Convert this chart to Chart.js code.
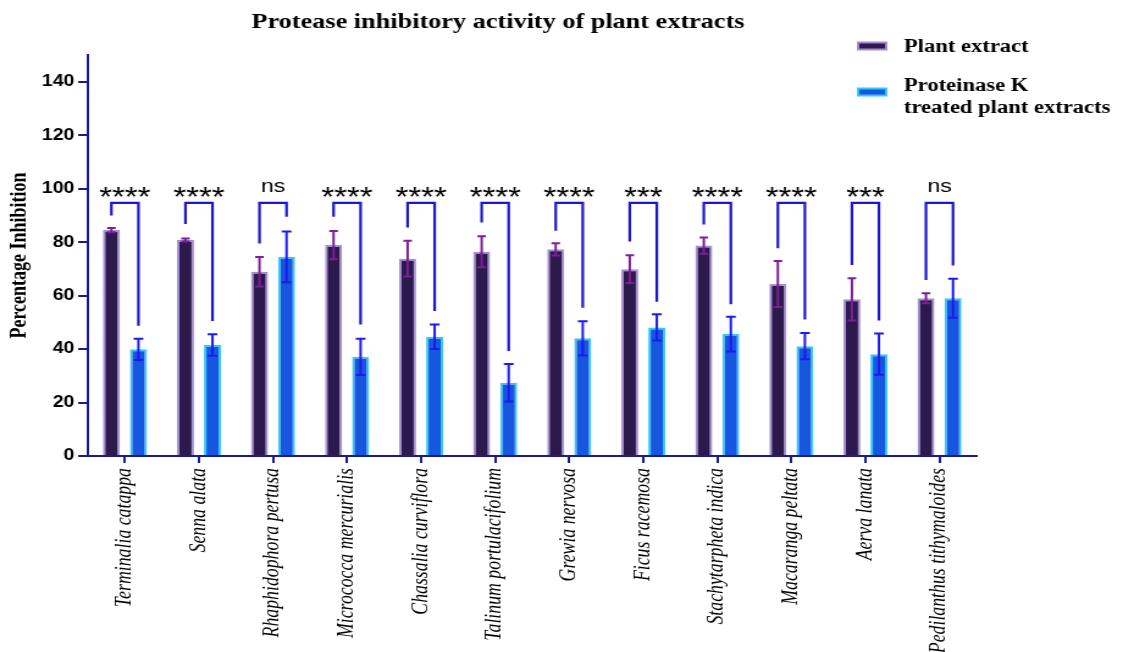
<!DOCTYPE html>
<html>
<head>
<meta charset="utf-8">
<title>Protease inhibitory activity of plant extracts</title>
<script src="https://cdn.jsdelivr.net/npm/chart.js@4.4.1/dist/chart.umd.min.js"></script>
<style>
  html, body { margin: 0; padding: 0; background: #fff; overflow: hidden; }
  canvas { display: block; }
</style>
</head>
<body>
<!-- the original figure is stretched sideways, so draw narrower and widen with css -->
<canvas id="chart" width="920" height="652" style="width:1123px;height:652px"></canvas>
<script>
const species = [
  'Terminalia catappa', 'Senna alata', 'Rhaphidophora pertusa', 'Micrococca mercurialis',
  'Chassalia curviflora', 'Talinum portulacifolium', 'Grewia nervosa', 'Ficus racemosa',
  'Stachytarpheta indica', 'Macaranga peltata', 'Aerva lanata', 'Pedilanthus tithymaloides'
];

// mean % inhibition and error (+/-)
const plantExtract   = [84.5, 80.8, 68.9, 78.9, 73.8, 76.4, 77.3, 69.9, 78.7, 64.3, 58.6, 59.0];
const plantExtractSd = [0.8, 0.6, 5.5, 5.3, 6.7, 5.8, 2.3, 5.2, 3.0, 8.6, 7.9, 1.9];
const proteinaseK    = [39.9, 41.5, 74.5, 37.1, 44.6, 27.4, 44.0, 48.1, 45.6, 41.1, 38.1, 59.0];
const proteinaseKSd  = [4.0, 4.0, 9.5, 6.8, 4.6, 7.0, 6.4, 4.9, 6.5, 4.9, 7.7, 7.3];

// significance brackets: where each leg stops, and the label above
const bracketTop = 94.7;
const bracketLeftEnd  = [90.0, 86.8, 79.5, 89.5, 85.5, 87.3, 84.3, 80.2, 86.6, 77.7, 71.4, 65.8];
const bracketRightEnd = [48.7, 50.5, 89.5, 49.2, 54.2, 39.3, 55.5, 57.7, 56.8, 51.1, 50.7, 71.3];
const significance = ['****', '****', 'ns', '****', '****', '****', '****', '***', '****', '****', '***', 'ns'];

const yTicks = [0, 20, 40, 60, 80, 100, 120, 140];

const axisColor = '#1b1b8e';
const bracketColor = '#1c17cf';
const serif = "'Liberation Serif', 'Times New Roman', serif";
const sans = "'Liberation Sans', Arial, sans-serif";

const legendItems = [
  { lines: ['Plant extract'], fill: '#2c1a4d', border: '#a08bd0', boxY: 46, textY: 51.7 },
  { lines: ['Proteinase K', 'treated plant extracts'], fill: '#1757e0', border: '#33c9f7', boxY: 92, textY: 91 }
];

const annotations = {
  id: 'annotations',
  afterDatasetsDraw(chart) {
    const { ctx } = chart;
    const y = chart.scales.y;
    ctx.save();

    // error bars
    chart.data.datasets.forEach((ds, i) => {
      const meta = chart.getDatasetMeta(i);
      ctx.strokeStyle = ds.errorColor;
      ctx.lineWidth = 2;
      meta.data.forEach((bar, j) => {
        const hi = y.getPixelForValue(ds.data[j] + ds.errors[j]);
        const lo = y.getPixelForValue(ds.data[j] - ds.errors[j]);
        const cap = ds.capWidth;
        ctx.beginPath();
        ctx.moveTo(bar.x, hi); ctx.lineTo(bar.x, lo);
        ctx.moveTo(bar.x - cap, hi); ctx.lineTo(bar.x + cap, hi);
        ctx.moveTo(bar.x - cap, lo); ctx.lineTo(bar.x + cap, lo);
        ctx.stroke();
      });
    });

    // brackets + stars
    const a = chart.getDatasetMeta(0).data;
    const b = chart.getDatasetMeta(1).data;
    const top = y.getPixelForValue(bracketTop);
    ctx.strokeStyle = bracketColor;
    ctx.lineWidth = 2.2;
    ctx.lineJoin = 'miter';
    ctx.textAlign = 'center';
    ctx.textBaseline = 'alphabetic';
    ctx.fillStyle = '#000';
    species.forEach((_, j) => {
      ctx.beginPath();
      ctx.moveTo(a[j].x, y.getPixelForValue(bracketLeftEnd[j]));
      ctx.lineTo(a[j].x, top);
      ctx.lineTo(b[j].x, top);
      ctx.lineTo(b[j].x, y.getPixelForValue(bracketRightEnd[j]));
      ctx.stroke();

      const mid = (a[j].x + b[j].x) / 2;
      if (significance[j] === 'ns') {
        ctx.font = `19px ${sans}`;
        ctx.fillText('ns', mid, top - 11);
      } else {
        ctx.font = `27px ${sans}`;
        ctx.fillText(significance[j], mid, top + 3);
      }
    });
    ctx.restore();
  },
  afterDraw(chart) {
    const { ctx } = chart;
    ctx.save();
    // title
    ctx.fillStyle = '#000';
    ctx.font = `bold 21.5px ${serif}`;
    ctx.textAlign = 'center';
    ctx.textBaseline = 'alphabetic';
    ctx.fillText('Protease inhibitory activity of plant extracts', 408, 28);

    // legend
    ctx.textAlign = 'left';
    ctx.font = `bold 18.5px ${serif}`;
    legendItems.forEach(item => {
      ctx.fillStyle = item.border;
      ctx.fillRect(702, item.boxY - 4.5, 25, 9);
      ctx.fillStyle = item.fill;
      ctx.fillRect(704, item.boxY - 2.5, 21, 5);
      ctx.fillStyle = '#000';
      item.lines.forEach((line, k) => ctx.fillText(line, 740.5, item.textY + k * 22));
    });
    ctx.restore();
  }
};

new Chart(document.getElementById('chart'), {
  type: 'bar',
  data: {
    labels: species,
    datasets: [
      {
        label: 'Plant extract',
        data: plantExtract,
        errors: plantExtractSd,
        errorColor: '#7d1f96',
        capWidth: 3.5,
        backgroundColor: '#2c1a4d',
        borderColor: 'rgba(160, 139, 208, 0.95)',
        borderWidth: 2,
        categoryPercentage: 0.73,
        barPercentage: 0.63
      },
      {
        label: 'Proteinase K treated plant extracts',
        data: proteinaseK,
        errors: proteinaseKSd,
        errorColor: '#1b1bef',
        capWidth: 4,
        backgroundColor: '#1757e0',
        borderColor: '#33c9f7',
        borderWidth: 2,
        categoryPercentage: 0.73,
        barPercentage: 0.63
      }
    ]
  },
  options: {
    responsive: false,
    animation: false,
    layout: { padding: { top: 55, right: 120, left: 0, bottom: 0 } },
    plugins: {
      legend: { display: false },
      title: { display: false },
      tooltip: { enabled: false }
    },
    scales: {
      x: {
        afterFit: s => { s.height = 196; },
        border: { color: axisColor, width: 2 },
        grid: { offset: false, drawOnChartArea: false, color: axisColor, lineWidth: 2, tickLength: 7 },
        ticks: {
          color: '#000',
          font: { family: serif, style: 'italic', size: 17.8 },
          minRotation: 90,
          maxRotation: 90,
          autoSkip: false,
          padding: 5
        }
      },
      y: {
        min: 0,
        max: 150,
        afterFit: s => { s.width = 72; },
        afterBuildTicks: s => { s.ticks = yTicks.map(v => ({ value: v })); },
        border: { color: axisColor, width: 2 },
        grid: { drawOnChartArea: false, color: axisColor, lineWidth: 2, tickLength: 8 },
        ticks: {
          color: '#000',
          font: { family: sans, weight: 'bold', size: 16 },
          padding: 3
        },
        title: {
          display: true,
          text: 'Percentage Inhibition',
          color: '#000',
          font: { family: serif, weight: 'bold', size: 18 },
          padding: { top: 6, bottom: 0 }
        }
      }
    }
  },
  plugins: [annotations]
});
</script>
</body>
</html>
